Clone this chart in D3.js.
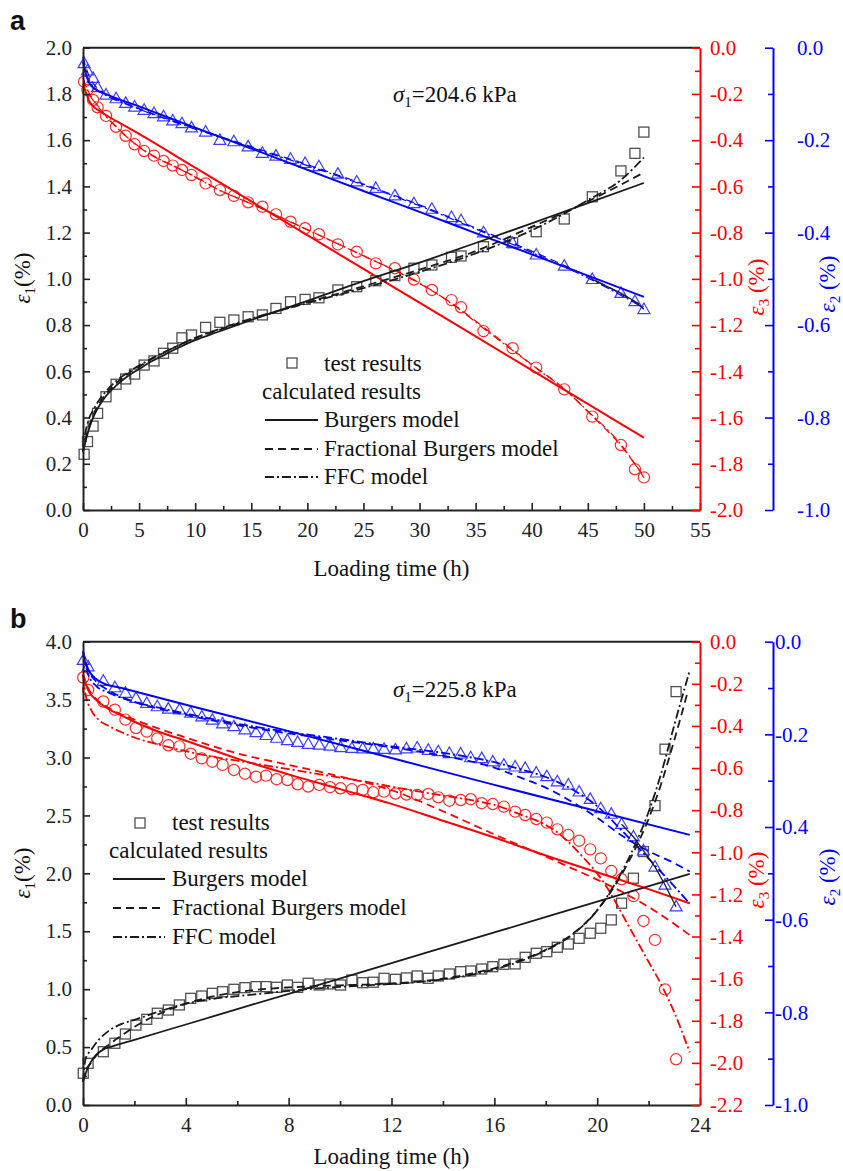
<!DOCTYPE html>
<html>
<head>
<meta charset="utf-8">
<script src="https://cdn.jsdelivr.net/npm/d3@7"></script>
<style>
  body { margin: 0; background: #fff; }
  svg text { font-family: "Liberation Serif", "DejaVu Serif", "Times New Roman", serif; }
</style>
</head>
<body>
<svg id="fig" width="843" height="1171"></svg>
<script>
// ---------- Panel a: sigma1 = 204.6 kPa ----------
const timeA = [0.1, 0.4, 0.9, 1.3, 2.05, 2.95, 3.8, 4.6, 5.45, 6.33, 7.18, 8.0, 8.82, 9.67, 10.93, 12.2, 13.45, 14.72, 15.99, 17.2,
  18.5, 19.8, 21.03, 22.72, 24.4, 26.1, 27.8, 29.5, 31.1, 32.85, 33.7, 35.7, 38.3, 40.4, 42.9, 45.4, 47.95, 49.2, 50.0];
const e1TestA = [0.241, 0.296, 0.363, 0.418, 0.49, 0.544, 0.567, 0.588, 0.627, 0.645, 0.678, 0.70, 0.745, 0.757, 0.79, 0.812, 0.822, 0.836, 0.844, 0.872,
  0.901, 0.911, 0.918, 0.952, 0.966, 0.992, 1.014, 1.046, 1.06, 1.093, 1.099, 1.139, 1.156, 1.204, 1.259, 1.355, 1.467, 1.543, 1.635];
const e3TestA = [-0.147, -0.183, -0.226, -0.258, -0.295, -0.342, -0.381, -0.418, -0.447, -0.467, -0.49, -0.51, -0.529, -0.551, -0.587, -0.616, -0.641, -0.669, -0.688, -0.721,
  -0.753, -0.781, -0.807, -0.851, -0.883, -0.933, -0.954, -1.003, -1.048, -1.092, -1.123, -1.226, -1.3, -1.384, -1.478, -1.596, -1.719, -1.824, -1.859];
const e2TestA = [-0.034, -0.05, -0.066, -0.086, -0.102, -0.11, -0.12, -0.128, -0.135, -0.142, -0.149, -0.158, -0.164, -0.173, -0.182, -0.2, -0.203, -0.214, -0.228, -0.234,
  -0.241, -0.25, -0.257, -0.273, -0.29, -0.304, -0.32, -0.337, -0.349, -0.367, -0.374, -0.4, -0.423, -0.448, -0.472, -0.501, -0.531, -0.549, -0.566];

const burgersE1A = [[0,0.25],[0.3,0.31],[0.6,0.36],[1,0.41],[1.5,0.455],[2,0.49],[3,0.54],[4,0.58],[5,0.61],[6,0.64],[7,0.665],[8,0.69],[10,0.735],[12,0.77],[15,0.822],[20,0.905],[25,0.99],[30,1.07],[35,1.155],[40,1.24],[45,1.328],[50,1.415]];
const fracE1A = [[0,0.25],[0.3,0.32],[0.6,0.37],[1,0.42],[1.5,0.465],[2,0.5],[3,0.55],[4,0.59],[5,0.62],[6,0.65],[7,0.675],[8,0.70],[10,0.743],[12,0.777],[15,0.825],[20,0.898],[25,0.968],[30,1.04],[35,1.12],[40,1.225],[45,1.335],[50,1.46]];
const ffcE1A = [[0,0.25],[0.2,0.33],[0.5,0.39],[1,0.44],[1.5,0.48],[2,0.51],[3,0.56],[4,0.595],[5,0.625],[6,0.652],[7,0.678],[8,0.70],[10,0.745],[12,0.78],[15,0.828],[20,0.895],[25,0.96],[30,1.03],[35,1.11],[40,1.21],[45,1.34],[48,1.43],[50,1.525]];

const burgersE3A = [[0,-0.155],[0.3,-0.2],[0.6,-0.235],[1,-0.257],[1.5,-0.275],[2,-0.29],[5,-0.373],[10,-0.519],[15,-0.665],[20,-0.811],[25,-0.957],[30,-1.103],[35,-1.249],[40,-1.395],[45,-1.541],[50,-1.687]];
const fracE3A = [[0,-0.13],[0.3,-0.17],[0.6,-0.2],[1,-0.23],[1.5,-0.262],[2,-0.293],[3,-0.342],[4,-0.39],[5,-0.43],[6,-0.462],[7,-0.488],[8,-0.51],[10,-0.558],[12,-0.612],[15,-0.675],[20,-0.787],[25,-0.9],[30,-1.02],[33,-1.11],[36,-1.22],[40,-1.37],[43,-1.48],[45,-1.575],[48,-1.725],[50,-1.855]];
const ffcE3A = [[0,-0.13],[0.3,-0.175],[0.6,-0.205],[1,-0.235],[1.5,-0.265],[2,-0.295],[3,-0.345],[4,-0.39],[5,-0.428],[6,-0.46],[7,-0.487],[8,-0.51],[10,-0.56],[12,-0.613],[15,-0.676],[20,-0.788],[25,-0.9],[30,-1.018],[33,-1.112],[36,-1.225],[40,-1.372],[43,-1.482],[45,-1.572],[48,-1.72],[50,-1.86]];

const burgersE2A = [[0,-0.03],[0.3,-0.06],[0.6,-0.078],[1,-0.088],[2,-0.1],[5,-0.127],[10,-0.173],[15,-0.218],[20,-0.264],[25,-0.31],[30,-0.355],[35,-0.401],[40,-0.447],[45,-0.493],[50,-0.539]];
const fracE2A = [[0,-0.02],[0.3,-0.045],[0.6,-0.065],[1,-0.08],[2,-0.1],[3,-0.112],[5,-0.132],[7,-0.15],[10,-0.174],[15,-0.214],[20,-0.253],[25,-0.295],[30,-0.34],[35,-0.39],[40,-0.44],[45,-0.495],[50,-0.56]];
const ffcE2A = [[0,-0.02],[0.2,-0.05],[0.5,-0.07],[1,-0.085],[2,-0.103],[3,-0.114],[5,-0.133],[7,-0.151],[10,-0.176],[15,-0.216],[20,-0.255],[25,-0.297],[30,-0.342],[35,-0.392],[40,-0.443],[45,-0.498],[50,-0.563]];

const xTicksA = [0, 5, 10, 15, 20, 25, 30, 35, 40, 45, 50, 55];
const xMinorA = [2.5, 7.5, 12.5, 17.5, 22.5, 27.5, 32.5, 37.5, 42.5, 47.5, 52.5];
const e1TicksA = [0.0, 0.2, 0.4, 0.6, 0.8, 1.0, 1.2, 1.4, 1.6, 1.8, 2.0];
const e1MinorA = [0.1, 0.3, 0.5, 0.7, 0.9, 1.1, 1.3, 1.5, 1.7, 1.9];
const e3TicksA = [0.0, -0.2, -0.4, -0.6, -0.8, -1.0, -1.2, -1.4, -1.6, -1.8, -2.0];
const e3MinorA = [-0.1, -0.3, -0.5, -0.7, -0.9, -1.1, -1.3, -1.5, -1.7, -1.9];

// ---------- Panel b: sigma1 = 225.8 kPa ----------
const timeB = [0.01, 0.2, 0.79, 1.24, 1.65, 2.06, 2.48, 2.89, 3.32, 3.75, 4.19, 4.62, 5.03, 5.43, 5.87, 6.3, 6.73, 7.12, 7.53, 7.95,
  8.35, 8.76, 9.19, 9.61, 10.02, 10.46, 10.88, 11.29, 11.71, 12.15, 12.58, 13.0, 13.43, 13.82, 14.25, 14.69, 15.08, 15.51, 15.94, 16.37,
  16.81, 17.2, 17.63, 18.04, 18.45, 18.88, 19.3, 19.73, 20.14, 20.55, 20.95, 21.41, 21.8, 22.25, 22.64, 23.07];
const e1TestB = [0.274, 0.36, 0.46, 0.533, 0.613, 0.69, 0.74, 0.792, 0.82, 0.864, 0.921, 0.941, 0.964, 0.978, 0.999, 1.013, 1.022, 1.022, 1.016, 1.036,
  1.016, 1.051, 1.036, 1.045, 1.036, 1.079, 1.056, 1.06, 1.094, 1.085, 1.097, 1.114, 1.094, 1.114, 1.131, 1.151, 1.157, 1.174, 1.194, 1.215,
  1.218, 1.275, 1.31, 1.324, 1.362, 1.39, 1.439, 1.483, 1.526, 1.598, 1.742, 1.958, 2.188, 2.585, 3.072, 3.569];
const e3TestB = [-0.17, -0.229, -0.284, -0.323, -0.37, -0.41, -0.427, -0.46, -0.492, -0.497, -0.532, -0.554, -0.57, -0.585, -0.609, -0.627, -0.641, -0.636, -0.653, -0.657,
  -0.677, -0.688, -0.68, -0.691, -0.696, -0.701, -0.704, -0.715, -0.712, -0.721, -0.726, -0.728, -0.723, -0.739, -0.755, -0.752, -0.748, -0.767, -0.771, -0.783,
  -0.807, -0.823, -0.842, -0.859, -0.891, -0.918, -0.945, -0.986, -1.029, -1.089, -1.128, -1.208, -1.326, -1.416, -1.651, -1.983];
const e2TestB = [-0.04, -0.054, -0.085, -0.099, -0.111, -0.122, -0.133, -0.14, -0.145, -0.147, -0.154, -0.162, -0.169, -0.177, -0.183, -0.19, -0.196, -0.202, -0.208, -0.213,
  -0.217, -0.221, -0.223, -0.225, -0.228, -0.23, -0.231, -0.231, -0.232, -0.233, -0.231, -0.229, -0.234, -0.237, -0.241, -0.242, -0.25, -0.252, -0.259, -0.266,
  -0.27, -0.273, -0.283, -0.291, -0.302, -0.309, -0.324, -0.34, -0.36, -0.372, -0.394, -0.421, -0.451, -0.486, -0.525, -0.572];

const burgersE1B = [[0,0.2],[0.15,0.3],[0.3,0.37],[0.5,0.43],[0.8,0.48],[1.05,0.5],[2,0.563],[4,0.695],[8,0.96],[12,1.225],[16,1.49],[20,1.756],[23.6,1.995]];
const fracE1B = [[0,0.2],[0.1,0.29],[0.3,0.36],[0.6,0.45],[1,0.52],[1.5,0.6],[2,0.675],[3,0.79],[4,0.875],[5,0.935],[6,0.975],[7,1.0],[8,1.015],[9,1.025],[10,1.033],[11,1.04],[12,1.05],[13,1.065],[14,1.09],[15,1.13],[16,1.18],[17,1.25],[18,1.34],[19,1.47],[20,1.68],[20.5,1.83],[21,2.01],[21.5,2.22],[22,2.47],[22.5,2.78],[23,3.15],[23.5,3.55]];
const ffcE1B = [[0,0.2],[0.1,0.4],[0.3,0.47],[0.6,0.56],[1,0.64],[1.5,0.7],[2,0.735],[3,0.81],[4,0.875],[5,0.915],[6,0.94],[7,0.962],[8,0.985],[9,1.005],[10,1.02],[11,1.032],[12,1.045],[13,1.06],[14,1.085],[15,1.12],[16,1.17],[17,1.24],[18,1.335],[19,1.465],[20,1.68],[20.5,1.84],[21,2.03],[21.5,2.26],[22,2.53],[22.5,2.87],[23,3.28],[23.6,3.75]];

const burgersE3B = [[0,-0.155],[0.2,-0.23],[0.5,-0.275],[1,-0.32],[1.5,-0.35],[2,-0.38],[3,-0.43],[4,-0.47],[6,-0.555],[8,-0.63],[10,-0.7],[12,-0.77],[14,-0.85],[16,-0.93],[18,-1.015],[20,-1.095],[22,-1.175],[23.6,-1.242]];
const fracE3B = [[0,-0.155],[0.2,-0.22],[0.5,-0.27],[1,-0.315],[2,-0.37],[3,-0.415],[4,-0.455],[6,-0.53],[8,-0.585],[10,-0.64],[12,-0.705],[14,-0.805],[16,-0.915],[17,-0.968],[18,-1.02],[19,-1.075],[20,-1.13],[21,-1.19],[22,-1.26],[23,-1.34],[23.6,-1.393]];
const ffcE3B = [[0,-0.16],[0.1,-0.25],[0.3,-0.32],[0.6,-0.37],[1,-0.4],[1.5,-0.43],[2,-0.455],[3,-0.49],[4,-0.52],[5,-0.545],[6,-0.565],[7,-0.585],[8,-0.605],[9,-0.625],[10,-0.645],[11,-0.665],[12,-0.688],[13,-0.71],[14,-0.73],[15,-0.75],[16,-0.775],[17,-0.82],[18,-0.87],[18.5,-0.91],[19,-0.965],[19.5,-1.03],[20,-1.1],[20.5,-1.19],[21,-1.3],[21.5,-1.41],[22,-1.52],[22.5,-1.63],[23,-1.76],[23.6,-1.95]];

const burgersE2B = [[0,-0.03],[0.2,-0.06],[0.5,-0.08],[0.8,-0.09],[1.5,-0.1],[4,-0.136],[8,-0.193],[12,-0.251],[16,-0.309],[20,-0.366],[23.6,-0.417]];
const fracE2B = [[0,-0.02],[0.2,-0.06],[0.5,-0.085],[1,-0.105],[2,-0.13],[3,-0.145],[4,-0.158],[6,-0.18],[8,-0.198],[10,-0.213],[12,-0.228],[14,-0.246],[16,-0.272],[17,-0.293],[18,-0.315],[19,-0.345],[20,-0.38],[21,-0.42],[22,-0.452],[23,-0.478],[23.6,-0.496]];
const ffcE2B = [[0,-0.02],[0.2,-0.07],[0.5,-0.095],[1,-0.11],[2,-0.13],[3,-0.143],[4,-0.155],[6,-0.177],[8,-0.195],[10,-0.21],[12,-0.226],[14,-0.24],[16,-0.26],[17,-0.275],[18,-0.292],[19,-0.318],[20,-0.355],[21,-0.41],[22,-0.468],[23,-0.528],[23.6,-0.565]];

const xTicksB = [0, 4, 8, 12, 16, 20, 24];
const xMinorB = [2, 6, 10, 14, 18, 22];
const e1TicksB = [0.0, 0.5, 1.0, 1.5, 2.0, 2.5, 3.0, 3.5, 4.0];
const e1MinorB = [0.25, 0.75, 1.25, 1.75, 2.25, 2.75, 3.25, 3.75];
const e3TicksB = [0.0, -0.2, -0.4, -0.6, -0.8, -1.0, -1.2, -1.4, -1.6, -1.8, -2.0, -2.2];
const e3MinorB = [-0.1, -0.3, -0.5, -0.7, -0.9, -1.1, -1.3, -1.5, -1.7, -1.9, -2.1];

// shared lateral-strain (epsilon 2) axis
const e2Ticks = [0.0, -0.2, -0.4, -0.6, -0.8, -1.0];
const e2Minor = [-0.1, -0.3, -0.5, -0.7, -0.9];

const legendLabels = ['test results', 'calculated results', 'Burgers model', 'Fractional Burgers model', 'FFC model'];

// ---------- drawing ----------
const SERIF = '"Liberation Serif", "DejaVu Serif", "Times New Roman", serif';
const RED = '#ff0000', BLUE = '#0000ff', INK = '#1a1a1a';
const DASH = '8,5', DASHDOT = '9,3,2,3';
const fmt = d => d.toFixed(1);
const svg = d3.select('#fig');

function styleAxis(sel, color, fs) {
  sel.attr('font-family', null).attr('font-size', null);
  sel.select('.domain').attr('stroke', color).attr('stroke-width', 2);
  sel.selectAll('.tick line').attr('stroke', color).attr('stroke-width', 1.6);
  sel.selectAll('.tick text').attr('fill', color).attr('font-size', fs).style('font-family', SERIF);
}

function minorAxis(g, gen, transform, color) {
  const a = g.append('g').attr('transform', transform).call(gen);
  a.select('.domain').remove();
  a.selectAll('.tick line').attr('stroke', color).attr('stroke-width', 1.6);
  a.selectAll('.tick text').remove();
}

function epsTitle(g, x, y, color, sub, gap) {
  const t = g.append('text')
    .attr('transform', `translate(${x},${y}) rotate(-90)`)
    .attr('text-anchor', 'middle').attr('fill', color)
    .style('font-family', SERIF).attr('font-size', 23);
  t.append('tspan').attr('font-style', 'italic').text('\u03b5');
  t.append('tspan').attr('font-size', 15).attr('dy', 5).text(sub);
  t.append('tspan').attr('dy', -5).text(gap + '(%)');
}

function drawPanel(o) {
  const L = 83, R = 700, BX = 773;
  const g = svg.append('g');
  const x = d3.scaleLinear().domain(o.xDomain).range([L, R]);
  const yL = d3.scaleLinear().domain(o.e1Domain).range([o.bottom, o.top]);
  const yR = d3.scaleLinear().domain(o.e3Domain).range([o.bottom, o.top]);
  const yB = d3.scaleLinear().domain([-1, 0]).range([o.bottom, o.top]);

  // test results
  const pts = (vals) => o.time.map((t, i) => [t, vals[i]]);
  g.append('g').selectAll('rect').data(pts(o.e1)).join('rect')
    .attr('x', d => x(d[0]) - 5).attr('y', d => yL(d[1]) - 5)
    .attr('width', 10).attr('height', 10)
    .attr('fill', 'none').attr('stroke', '#505050').attr('stroke-width', 1.3);
  g.append('g').selectAll('circle').data(pts(o.e3)).join('circle')
    .attr('cx', d => x(d[0])).attr('cy', d => yR(d[1])).attr('r', 5.6)
    .attr('fill', 'none').attr('stroke', '#ff2a2a').attr('stroke-width', 1.2);
  g.append('g').selectAll('path').data(pts(o.e2)).join('path')
    .attr('transform', d => `translate(${x(d[0])},${yB(d[1])})`)
    .attr('d', 'M0,-6.3L6,4.2L-6,4.2Z')
    .attr('fill', 'none').attr('stroke', '#3d3dff').attr('stroke-width', 1.2);

  // calculated results
  const curve = (ys) => d3.line().x(d => x(d[0])).y(d => ys(d[1])).curve(d3.curveMonotoneX);
  const draw = (data, ys, color, dash, w) => g.append('path').attr('d', curve(ys)(data))
    .attr('fill', 'none').attr('stroke', color).attr('stroke-width', w)
    .attr('stroke-dasharray', dash);
  draw(o.m.e2[0], yB, BLUE, null, 2);
  draw(o.m.e2[1], yB, BLUE, DASH, o.thin);
  draw(o.m.e2[2], yB, BLUE, DASHDOT, o.thin);
  draw(o.m.e3[0], yR, RED, null, 2);
  draw(o.m.e3[1], yR, RED, DASH, o.thin);
  draw(o.m.e3[2], yR, RED, DASHDOT, o.thin);
  draw(o.m.e1[0], yL, INK, null, 1.8);
  draw(o.m.e1[1], yL, INK, DASH, 1.8);
  draw(o.m.e1[2], yL, INK, DASHDOT, 1.8);
  // trend through the last lateral-strain readings
  const tail = pts(o.e2).filter(d => d[0] >= o.tailFrom);
  g.append('path').attr('d', d3.line().x(d => x(d[0])).y(d => yB(d[1]))(tail))
    .attr('fill', 'none').attr('stroke', INK).attr('stroke-width', 1.3);

  // frame
  g.append('line').attr('x1', L).attr('x2', R).attr('y1', o.top).attr('y2', o.top)
    .attr('stroke', '#222').attr('stroke-width', 2);

  // axes
  const ax = g.append('g').attr('transform', `translate(0,${o.bottom})`)
    .call(d3.axisBottom(x).tickValues(o.xTicks).tickFormat(d3.format('d'))
      .tickSize(-7).tickSizeOuter(0).tickPadding(12));
  styleAxis(ax, '#222', 21);
  minorAxis(g, d3.axisBottom(x).tickValues(o.xMinor).tickSize(-4).tickSizeOuter(0), `translate(0,${o.bottom})`, '#222');

  const al = g.append('g').attr('transform', `translate(${L},0)`)
    .call(d3.axisLeft(yL).tickValues(o.e1Ticks).tickFormat(fmt)
      .tickSize(-7).tickSizeOuter(0).tickPadding(11));
  styleAxis(al, '#222', 21);
  minorAxis(g, d3.axisLeft(yL).tickValues(o.e1Minor).tickSize(-4).tickSizeOuter(0), `translate(${L},0)`, '#222');

  const ar = g.append('g').attr('transform', `translate(${R},0)`)
    .call(d3.axisRight(yR).tickValues(o.e3Ticks).tickFormat(fmt)
      .tickSize(-8).tickSizeOuter(0).tickPadding(10));
  styleAxis(ar, RED, 21);
  minorAxis(g, d3.axisRight(yR).tickValues(o.e3Minor).tickSize(-5).tickSizeOuter(0), `translate(${R},0)`, RED);

  const ab = g.append('g').attr('transform', `translate(${BX},0)`)
    .call(d3.axisRight(yB).tickValues(e2Ticks).tickFormat(fmt)
      .tickSize(-8).tickSizeOuter(0).tickPadding(o.bluePad));
  styleAxis(ab, BLUE, 21);
  minorAxis(g, d3.axisRight(yB).tickValues(e2Minor).tickSize(-5).tickSizeOuter(0), `translate(${BX},0)`, BLUE);

  // titles
  g.append('text').attr('x', (L + R) / 2).attr('y', o.xTitleY).attr('text-anchor', 'middle')
    .style('font-family', SERIF).attr('font-size', 23).attr('fill', '#111').text('Loading time (h)');
  epsTitle(g, 30, o.titleY[0], '#111', '1', '');
  epsTitle(g, 764, o.titleY[1], RED, '3', ' ');
  epsTitle(g, 835, o.titleY[2], BLUE, '2', ' ');

  // panel letter
  g.append('text').attr('x', 10).attr('y', o.letterY).text(o.letter)
    .style('font-family', '"Liberation Sans", Arial, sans-serif').attr('font-weight', 'bold')
    .attr('font-size', 27).attr('fill', '#111');

  // stress level
  const s = g.append('text').attr('x', o.sigma[0]).attr('y', o.sigma[1])
    .style('font-family', SERIF).attr('font-size', 23).attr('fill', '#111');
  s.append('tspan').attr('font-style', 'italic').text('\u03c3');
  s.append('tspan').attr('font-size', 15).attr('dy', 5).text('1');
  s.append('tspan').attr('dy', -5).text('=' + o.sigmaText);

  // legend
  const lg = o.legend;
  const txt = (xx, yy, str) => g.append('text').attr('x', xx).attr('y', yy).text(str)
    .style('font-family', SERIF).attr('font-size', 23).attr('fill', '#111');
  g.append('rect').attr('x', lg.sq[0] - 5).attr('y', lg.sq[1] - 5).attr('width', 10).attr('height', 10)
    .attr('fill', 'none').attr('stroke', '#505050').attr('stroke-width', 1.3);
  txt(lg.textX, lg.rows[0], legendLabels[0]);
  txt(lg.calcX, lg.rows[1], legendLabels[1]);
  const dashes = [null, DASH, DASHDOT];
  for (let i = 0; i < 3; i++) {
    const yy = lg.rows[i + 2] - 7;
    g.append('line').attr('x1', lg.line[0]).attr('x2', lg.line[1]).attr('y1', yy).attr('y2', yy)
      .attr('stroke', INK).attr('stroke-width', 1.8).attr('stroke-dasharray', dashes[i]);
    txt(lg.textX, lg.rows[i + 2], legendLabels[i + 2]);
  }
}

drawPanel({
  letter: 'a', letterY: 30, top: 47.7, bottom: 510,
  xDomain: [0, 55], e1Domain: [0, 2], e3Domain: [-2, 0],
  xTicks: xTicksA, xMinor: xMinorA, e1Ticks: e1TicksA, e1Minor: e1MinorA,
  e3Ticks: e3TicksA, e3Minor: e3MinorA, bluePad: 24,
  time: timeA, e1: e1TestA, e3: e3TestA, e2: e2TestA, tailFrom: 45,
  m: { e1: [burgersE1A, fracE1A, ffcE1A], e3: [burgersE3A, fracE3A, ffcE3A], e2: [burgersE2A, fracE2A, ffcE2A] },
  thin: 1.2,
  xTitleY: 576, titleY: [278, 287, 284],
  sigma: [393, 102], sigmaText: '204.6 kPa',
  legend: { sq: [292, 363], textX: 324, calcX: 262, line: [265, 318], rows: [371, 399, 427, 456, 484] }
});

drawPanel({
  letter: 'b', letterY: 628, top: 641.7, bottom: 1105,
  xDomain: [0, 24], e1Domain: [0, 4], e3Domain: [-2.2, 0],
  xTicks: xTicksB, xMinor: xMinorB, e1Ticks: e1TicksB, e1Minor: e1MinorB,
  e3Ticks: e3TicksB, e3Minor: e3MinorB, bluePad: 2,
  time: timeB, e1: e1TestB, e3: e3TestB, e2: e2TestB, tailFrom: 20.9,
  m: { e1: [burgersE1B, fracE1B, ffcE1B], e3: [burgersE3B, fracE3B, ffcE3B], e2: [burgersE2B, fracE2B, ffcE2B] },
  thin: 1.8,
  xTitleY: 1164, titleY: [873, 880, 877],
  sigma: [393, 697], sigmaText: '225.8 kPa',
  legend: { sq: [140, 823], textX: 172, calcX: 109, line: [113, 165], rows: [830, 858, 886, 915, 944] }
});
</script>
</body>
</html>
